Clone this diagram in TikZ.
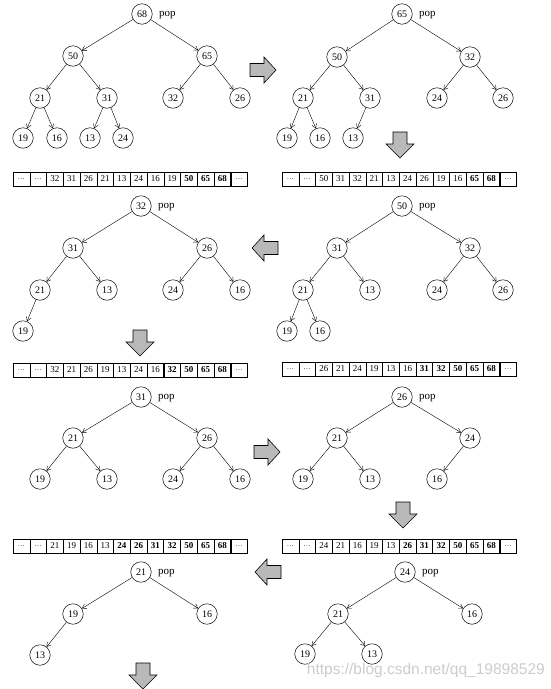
\documentclass[tikz,border=0pt]{standalone}
\usepackage{fontspec}
\setmainfont{Liberation Serif}
\newfontfamily\wmfont{Liberation Sans}
\usetikzlibrary{arrows.meta}
\tikzset{
  nd/.style={circle,draw,line width=0.5pt,minimum size=20.5pt,inner sep=0pt,font=\fontsize{10}{10}\selectfont},
  ed/.style={-{Straight Barb[length=4pt,width=5pt]},line width=0.4pt},
  poplbl/.style={anchor=base west,inner sep=0pt,font=\fontsize{11}{11}\selectfont},
  blockarr/.style={draw,line width=0.6pt,fill=gray!55},
  cellbox/.style={draw,line width=0.5pt,minimum width=16.75pt,minimum height=14pt,inner sep=0pt,font=\fontsize{9}{9}\selectfont},
  boldcell/.style={cellbox,line width=0.9pt,font=\fontsize{9}{9}\selectfont\bfseries},
  rarr/.pic={\draw[blockarr] (-13,-6.5) -- (1,-6.5) -- (1,-13) -- (13,0) -- (1,13) -- (1,6.5) -- (-13,6.5) -- cycle;},
  larr/.pic={\draw[blockarr] (13,-6.5) -- (-1,-6.5) -- (-1,-13) -- (-13,0) -- (-1,13) -- (-1,6.5) -- (13,6.5) -- cycle;},
  darr/.pic={\draw[blockarr] (-7,-13) -- (7,-13) -- (7,-1) -- (14,-1) -- (0,13) -- (-14,-1) -- (-7,-1) -- cycle;}
}
\newcommand\cd{{\fontsize{7}{7}\selectfont\ldots}}
\newcommand\cellrow[5]{%
  \foreach \v [count=\i] in {#5} {
    \pgfmathsetmacro\cx{#2+(\i-0.5)*16.75}
    \pgfmathtruncatemacro\isb{(\i>=#4)&&(\i<=13)}
    \ifnum\isb=1
      \node[boldcell] (#1-\i) at (\cx,#3) {\v};
    \else
      \node[cellbox] (#1-\i) at (\cx,#3) {\v};
    \fi
  }%
}
\begin{document}
\begin{tikzpicture}[x=1pt,y=-1pt]
\useasboundingbox (0,0) rectangle (551,689);

% Tree 1
\node[nd] (a0) at (142,14) {68};
\node[poplbl] (a0p) at (159,16) {pop};
\node[nd] (a1) at (73,56) {50};
\node[nd] (a2) at (207,56) {65};
\node[nd] (a3) at (40,98) {21};
\node[nd] (a4) at (107,98) {31};
\node[nd] (a5) at (173,98) {32};
\node[nd] (a6) at (240,98) {26};
\node[nd] (a7) at (23,138) {19};
\node[nd] (a8) at (57,138) {16};
\node[nd] (a9) at (90,138) {13};
\node[nd] (a10) at (123,138) {24};
\foreach \p/\c in {a0/a1,a0/a2,a1/a3,a1/a4,a2/a5,a2/a6,a3/a7,a3/a8,a4/a9,a4/a10}
  \draw[ed] (\p) -- (\c);

% Tree 2
\node[nd] (b0) at (402,14) {65};
\node[poplbl] (b0p) at (419,16) {pop};
\node[nd] (b1) at (337,57) {50};
\node[nd] (b2) at (470,57) {32};
\node[nd] (b3) at (303,98) {21};
\node[nd] (b4) at (370,98) {31};
\node[nd] (b5) at (437,98) {24};
\node[nd] (b6) at (503,98) {26};
\node[nd] (b7) at (287,138) {19};
\node[nd] (b8) at (320,138) {16};
\node[nd] (b9) at (353,138) {13};
\foreach \p/\c in {b0/b1,b0/b2,b1/b3,b1/b4,b2/b5,b2/b6,b3/b7,b3/b8,b4/b9}
  \draw[ed] (\p) -- (\c);

% Tree 3
\node[nd] (c0) at (141,206) {32};
\node[poplbl] (c0p) at (158,208) {pop};
\node[nd] (c1) at (73,248) {31};
\node[nd] (c2) at (207,248) {26};
\node[nd] (c3) at (40,290) {21};
\node[nd] (c4) at (107,290) {13};
\node[nd] (c5) at (173,290) {24};
\node[nd] (c6) at (240,290) {16};
\node[nd] (c7) at (23,331) {19};
\foreach \p/\c in {c0/c1,c0/c2,c1/c3,c1/c4,c2/c5,c2/c6,c3/c7}
  \draw[ed] (\p) -- (\c);

% Tree 4
\node[nd] (d0) at (402,206) {50};
\node[poplbl] (d0p) at (419,208) {pop};
\node[nd] (d1) at (337,248) {31};
\node[nd] (d2) at (470,248) {32};
\node[nd] (d3) at (303,290) {21};
\node[nd] (d4) at (370,290) {13};
\node[nd] (d5) at (437,290) {24};
\node[nd] (d6) at (503,290) {26};
\node[nd] (d7) at (287,331) {19};
\node[nd] (d8) at (320,331) {16};
\foreach \p/\c in {d0/d1,d0/d2,d1/d3,d1/d4,d2/d5,d2/d6,d3/d7,d3/d8}
  \draw[ed] (\p) -- (\c);

% Tree 5
\node[nd] (e0) at (141,397) {31};
\node[poplbl] (e0p) at (158,399) {pop};
\node[nd] (e1) at (73,438) {21};
\node[nd] (e2) at (207,438) {26};
\node[nd] (e3) at (40,479) {19};
\node[nd] (e4) at (107,479) {13};
\node[nd] (e5) at (173,479) {24};
\node[nd] (e6) at (240,479) {16};
\foreach \p/\c in {e0/e1,e0/e2,e1/e3,e1/e4,e2/e5,e2/e6}
  \draw[ed] (\p) -- (\c);

% Tree 6
\node[nd] (f0) at (402,397) {26};
\node[poplbl] (f0p) at (419,399) {pop};
\node[nd] (f1) at (337,438) {21};
\node[nd] (f2) at (470,438) {24};
\node[nd] (f3) at (303,479) {19};
\node[nd] (f4) at (370,479) {13};
\node[nd] (f5) at (437,479) {16};
\foreach \p/\c in {f0/f1,f0/f2,f1/f3,f1/f4,f2/f5}
  \draw[ed] (\p) -- (\c);

% Tree 7
\node[nd] (g0) at (141,572) {21};
\node[poplbl] (g0p) at (158,574) {pop};
\node[nd] (g1) at (73,614) {19};
\node[nd] (g2) at (207,614) {16};
\node[nd] (g3) at (40,655) {13};
\foreach \p/\c in {g0/g1,g0/g2,g1/g3}
  \draw[ed] (\p) -- (\c);

% Tree 8
\node[nd] (h0) at (405,572) {24};
\node[poplbl] (h0p) at (422,574) {pop};
\node[nd] (h1) at (338,614) {21};
\node[nd] (h2) at (472,614) {16};
\node[nd] (h3) at (305,654) {19};
\node[nd] (h4) at (372,654) {13};
\foreach \p/\c in {h0/h1,h0/h2,h1/h3,h1/h4}
  \draw[ed] (\p) -- (\c);

% Arrays
\cellrow{ra}{13}{179}{11}{\cd,\cd,32,31,26,21,13,24,16,19,50,65,68,\cd}
\cellrow{rb}{282}{179}{12}{\cd,\cd,50,31,32,21,13,24,26,19,16,65,68,\cd}
\cellrow{rc}{13}{370}{10}{\cd,\cd,32,21,26,19,13,24,16,32,50,65,68,\cd}
\cellrow{rd}{282}{369}{9}{\cd,\cd,26,21,24,19,13,16,31,32,50,65,68,\cd}
\cellrow{re}{13}{546}{7}{\cd,\cd,21,19,16,13,24,26,31,32,50,65,68,\cd}
\cellrow{rf}{282}{546}{8}{\cd,\cd,24,21,16,19,13,26,31,32,50,65,68,\cd}

% Block arrows
\pic at (263,70) {rarr};
\pic at (400,145) {darr};
\pic at (265,248) {larr};
\pic at (140,343) {darr};
\pic at (267,452) {rarr};
\pic at (403,515) {darr};
\pic at (268,572) {larr};
\pic at (143,676) {darr};

% Watermark
\node[font=\wmfont\fontsize{15.5}{15.5}\selectfont,text=gray!40,anchor=base east,inner sep=0pt] (wm) at (545,674) {https://blog.csdn.net/qq\_19898529};
\end{tikzpicture}
\end{document}
